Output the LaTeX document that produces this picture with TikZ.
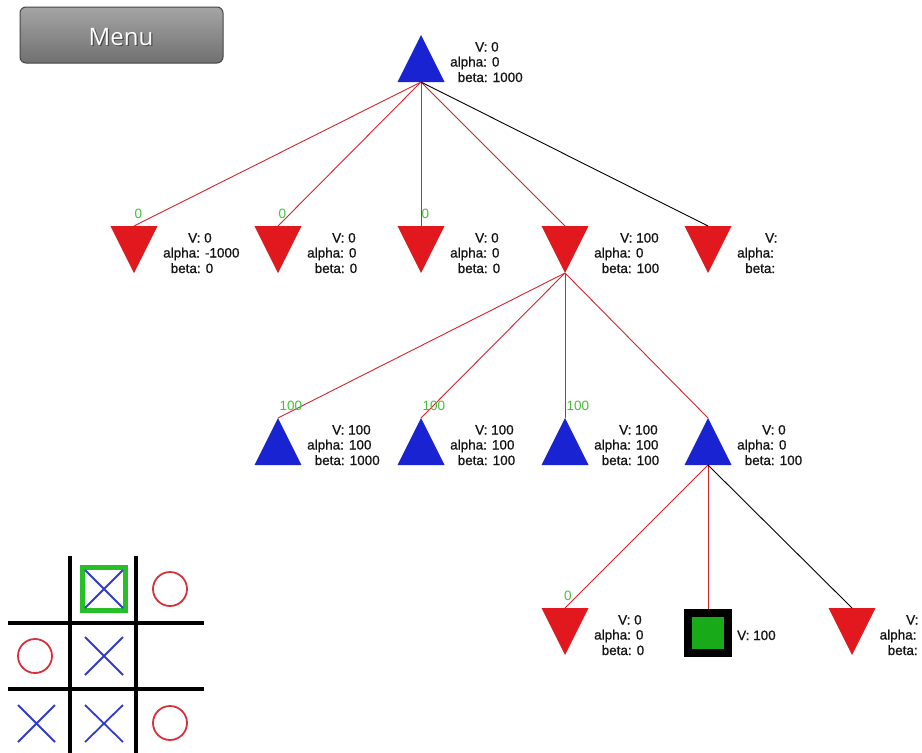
\documentclass[tikz,border=0pt]{standalone}
\usepackage{fontspec}
\setmainfont{Liberation Sans}
\newfontfamily\infofont[FakeBold=0.9]{Liberation Sans}
\newfontfamily\btnfont{Open Sans}
\usetikzlibrary{calc}
\definecolor{maxblue}{RGB}{25,35,210}
\definecolor{minred}{RGB}{225,25,30}
\definecolor{edgered}{RGB}{215,35,45}
\definecolor{gainco}{RGB}{70,190,60}
\definecolor{leafgreen}{RGB}{25,170,25}
\definecolor{markblue}{RGB}{50,60,200}
\definecolor{markred}{RGB}{215,50,60}
\definecolor{hlgreen}{RGB}{40,190,40}
\definecolor{btntop}{RGB}{165,165,165}
\definecolor{btnbot}{RGB}{112,112,112}
\definecolor{btnrim}{RGB}{70,70,70}
\definecolor{infotext}{RGB}{20,20,20}

% three lines of search data beside a tree node
\newcommand{\treeinfo}[7]{%
  \node[info] (#1-v) at ($(#1.north)+(#2,16.5)$) {V: #5};
  \node[info] (#1-a) at ($(#1.north)+(#3,31.5)$) {alpha: #6};
  \node[info] (#1-b) at ($(#1.north)+(#4,47)$) {beta: #7};}

\begin{document}
\begin{tikzpicture}[x=1pt,y=-1pt,
  tri/.style={rectangle, minimum width=47pt, minimum height=47pt,
    inner sep=0pt, outer sep=0pt, anchor=north},
  maxnode/.style={tri, path picture={\fill[maxblue]
    (path picture bounding box.south west) -- (path picture bounding box.north)
    -- (path picture bounding box.south east) -- cycle;}},
  minnode/.style={tri, path picture={\fill[minred]
    (path picture bounding box.north west) -- (path picture bounding box.south)
    -- (path picture bounding box.north east) -- cycle;}},
  leaf/.style={rectangle, draw=black, line width=8pt, fill=leafgreen,
    minimum size=40pt, inner sep=0pt, anchor=north},
  info/.style={anchor=base west, inner sep=0pt, text=infotext,
    font=\infofont\fontsize{13.5}{13.5}\selectfont},
  gain/.style={anchor=base west, inner sep=0pt, text=gainco,
    font=\fontsize{13.5}{13.5}\selectfont},
  redge/.style={draw=edgered, line width=0.9pt},
  kedge/.style={draw=black, line width=0.9pt},
  grid/.style={draw=black, line width=3.5pt},
  xmark/.style={draw=markblue, line width=1.8pt},
  omark/.style={draw=markred, line width=1.8pt},
  menubtn/.style={rectangle, rounded corners=6pt, minimum width=203pt,
    minimum height=56pt, top color=btntop, bottom color=btnbot,
    draw=btnrim, line width=1pt},
  btntext/.style={inner sep=0pt, font=\btnfont\fontsize{24}{24}\selectfont}
]
\useasboundingbox (0,0) rectangle (922,753);
\fill[white] (0,0) rectangle (922,753);

% menu button
\node[menubtn] (menu) at (121.5,35) {};
\node[btntext, text=black!70] (menushadow) at (122.2,38) {Menu};
\node[btntext, text=white] (menulabel) at (121,37) {Menu};

% game tree
\node[maxnode] (root) at (421,35) {};

\node[minnode] (l1a) at (134,226) {};
\node[minnode] (l1b) at (278,226) {};
\node[minnode] (l1c) at (421,226) {};
\node[minnode] (l1d) at (565,226) {};
\node[minnode] (l1e) at (708,226) {};

\node[maxnode] (l2a) at (278,418) {};
\node[maxnode] (l2b) at (421,418) {};
\node[maxnode] (l2c) at (565,418) {};
\node[maxnode] (l2d) at (708,418) {};

\node[minnode] (l3a) at (565,608) {};
\node[leaf]    (l3b) at (708,608.5) {};
\node[minnode] (l3c) at (852,608) {};

% branches
\draw[redge] (root.south) -- (l1a.north);
\draw[redge] (root.south) -- (l1b.north);
\draw[redge] (root.south) -- (l1c.north);
\draw[redge] (root.south) -- (l1d.north);
\draw[kedge] (root.south) -- (l1e.north);

\draw[redge] (l1d.south) -- (l2a.north);
\draw[redge] (l1d.south) -- (l2b.north);
\draw[redge] (l1d.south) -- (l2c.north);
\draw[redge] (l1d.south) -- (l2d.north);

\draw[redge] (l2d.south) -- (l3a.north);
\draw[redge] (l2d.south) -- (l3b.north);
\draw[kedge] (l2d.south) -- (l3c.north);

% returned values on the branches
\node[gain] (g1a) at ($(l1a.north)+(0.5,-8)$) {0};
\node[gain] (g1b) at ($(l1b.north)+(0.5,-8)$) {0};
\node[gain] (g1c) at ($(l1c.north)+(0.5,-8)$) {0};
\node[gain] (g2a) at ($(l2a.north)+(1.5,-8)$) {100};
\node[gain] (g2b) at ($(l2b.north)+(1.5,-8)$) {100};
\node[gain] (g2c) at ($(l2c.north)+(1.5,-8)$) {100};
\node[gain] (g3a) at ($(l3a.north)+(-1,-8)$) {0};

% node data
\treeinfo{root}{54}{29}{36.5}{0}{0}{1000}
\treeinfo{l1a}{54}{29}{36.5}{0}{-1000}{0}
\treeinfo{l1b}{54}{29}{36.5}{0}{0}{0}
\treeinfo{l1c}{54}{29}{36.5}{0}{0}{0}
\treeinfo{l1d}{55}{29}{36.5}{100}{0}{100}
\treeinfo{l1e}{57}{29}{37}{}{}{}
\treeinfo{l2a}{54}{29}{36.5}{100}{100}{1000}
\treeinfo{l2b}{54}{29}{36.5}{100}{100}{100}
\treeinfo{l2c}{54}{29}{36.5}{100}{100}{100}
\treeinfo{l2d}{54}{29}{36.5}{0}{0}{100}
\treeinfo{l3a}{53}{29}{36.5}{0}{0}{0}
\treeinfo{l3c}{54}{27.5}{35.5}{}{}{}
\node[info] (l3b-v) at (737,640) {V: 100};

% tic-tac-toe board
\draw[grid] (70,556) -- (70,756);
\draw[grid] (136,556) -- (136,756);
\draw[grid] (8,623) -- (204,623);
\draw[grid] (8,689) -- (204,689);

\draw[hlgreen, line width=5pt] (82.5,567.5) rectangle (125.5,610.5);
\draw[xmark] (85,570) -- (123,608) (85,608) -- (123,570);
\draw[xmark] (85,637) -- (123,675) (85,675) -- (123,637);
\draw[xmark] (18,705) -- (55,742) (18,742) -- (55,705);
\draw[xmark] (85,705) -- (123,742) (85,742) -- (123,705);
\draw[omark] (170,589) circle (17);
\draw[omark] (35,656) circle (17);
\draw[omark] (170,723) circle (17);
\end{tikzpicture}
\end{document}
